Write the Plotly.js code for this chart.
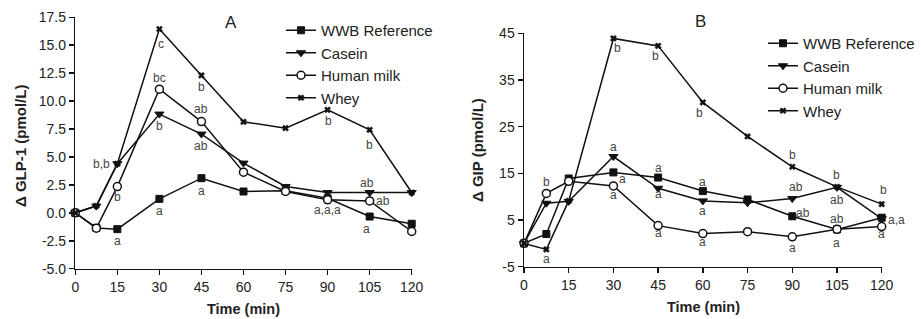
<!DOCTYPE html>
<html>
<head>
<meta charset="utf-8">
<script src="https://cdn.plot.ly/plotly-3.0.1.min.js"></script>
<style>html,body{margin:0;padding:0;background:#fff;}#chart{width:921px;height:319px;}</style>
</head>
<body>
<div id="chart"></div>
<script>
// ---------- data ----------
const times = [0, 7.5, 15, 30, 45, 60, 75, 90, 105, 120];
const seriesNames = ["WWB Reference", "Casein", "Human milk", "Whey"];

// Panel A: Δ GLP-1 (pmol/L)
const glpWWB    = [0, -1.35, -1.46, 1.25, 3.10, 1.91, 1.97, 1.30, -0.33, -0.98];
const glpCasein = [0, 0.60, 4.39, 8.84, 7.05, 4.45, 2.36, 1.82, 1.82, 1.82];
const glpHuman  = [0, -1.37, 2.35, 11.07, 8.17, 3.64, 1.91, 1.16, 1.07, -1.67];
const glpWhey   = [0, 0.63, 4.39, 16.45, 12.30, 8.15, 7.58, 9.22, 7.43, 1.82];

// Panel B: Δ GIP (pmol/L)
const gipWWB    = [0, 2.0, 13.9, 15.2, 14.1, 11.2, 9.4, 5.8, 3.0, 5.5];
const gipCasein = [0, 8.6, 9.0, 18.6, 11.8, 9.1, 8.7, 9.6, 12.0, 5.3];
const gipHuman  = [0, 10.7, 13.3, 12.3, 3.8, 2.1, 2.5, 1.4, 3.0, 3.6];
const gipWhey   = [0, -1.3, 9.1, 43.9, 42.3, 30.2, 22.9, 16.4, 12.1, 8.4];

// tick labels
const xTicks = [0, 15, 30, 45, 60, 75, 90, 105, 120];
const yTicksA = [-5.0, -2.5, 0.0, 2.5, 5.0, 7.5, 10.0, 12.5, 15.0, 17.5];
const yTicksB = [-5, 5, 15, 25, 35, 45];

// significance letters: [series, time, text]
const lettersA = [
  ["Whey", 15, "b,b"], ["Human milk", 15, "b"], ["WWB Reference", 15, "a"],
  ["WWB Reference", 30, "a"], ["WWB Reference", 45, "a"],
  ["Whey", 30, "c"], ["Human milk", 30, "bc"], ["Casein", 30, "b"],
  ["Whey", 45, "b"], ["Human milk", 45, "ab"], ["Casein", 45, "ab"],
  ["Whey", 90, "b"], ["Whey", 105, "b"],
  ["Casein", 105, "ab"], ["Human milk", 105, "ab"],
  ["Human milk", 90, "a,a,a"], ["WWB Reference", 105, "a"]
];
const lettersB = [
  ["Human milk", 7.5, "b"], ["Whey", 7.5, "a"],
  ["Whey", 30, "b"], ["Whey", 45, "b"],
  ["Casein", 30, "a"], ["WWB Reference", 30, "a"], ["Human milk", 30, "a"],
  ["WWB Reference", 45, "a"], ["Casein", 45, "a"], ["Human milk", 45, "a"],
  ["Whey", 60, "b"], ["Casein", 60, "a"], ["WWB Reference", 60, "a"], ["Human milk", 60, "a"],
  ["Whey", 90, "b"], ["Casein", 90, "ab"], ["WWB Reference", 90, "ab"], ["Human milk", 90, "a"],
  ["Whey", 105, "b"], ["Casein", 105, "ab"], ["Human milk", 105, "ab"], ["WWB Reference", 105, "a"],
  ["Whey", 120, "b"], ["WWB Reference", 120, "a,a"], ["Human milk", 120, "a"]
];

// ---------- layout helpers (pixel offsets of the letters, screen-down positive) ----------
const offA = [[-16,0],[0,10],[0,12],[0,12],[0,13],[2,15],[0,-11],[0,12],[0,12],[0,-13],[0,12],
              [1,11],[0,15],[-3,-10],[13,0],[0,10],[-3,12]];
const offB = [[0,-11],[0,10],[4,10],[-3,10],[0,-10],[9,7],[0,9],[0,-10],[0,6],[0,7],
              [-3,11],[0,10],[0,-9],[0,8],[0,-12],[4,-12],[11,-3],[0,11],[0,-12],[0,13],[0,-10],[0,14],
              [2,-14],[15,2],[0,7]];

const W = 921, H = 319;
const px = v => v / W;
const py = v => 1 - v / H;

const ink = "#111";
const FONT = "'Liberation Sans', Arial, Helvetica, sans-serif";

const markerStyles = {
  "WWB Reference": {symbol: "square", size: 7, color: ink, line: {color: ink, width: 1}},
  "Casein": {symbol: "triangle-down", size: 8, color: ink, line: {color: ink, width: 1}},
  "Human milk": {symbol: "circle", size: 8, color: "#fff", line: {color: ink, width: 1.5}},
  "Whey": {symbol: "x", size: 5.5, color: ink, line: {color: ink, width: 0.5}}
};

const dataA = {"WWB Reference": glpWWB, "Casein": glpCasein, "Human milk": glpHuman, "Whey": glpWhey};
const dataB = {"WWB Reference": gipWWB, "Casein": gipCasein, "Human milk": gipHuman, "Whey": gipWhey};

const traces = [];
seriesNames.forEach((name, i) => {
  traces.push({
    x: times, y: dataA[name], name: name, type: "scatter", mode: "lines+markers",
    xaxis: "x", yaxis: "y", legend: "legend", legendgroup: "a" + i,
    line: {color: ink, width: 1.5}, marker: markerStyles[name], cliponaxis: false
  });
});
seriesNames.forEach((name, i) => {
  traces.push({
    x: times, y: dataB[name], name: name, type: "scatter", mode: "lines+markers",
    xaxis: "x2", yaxis: "y2", legend: "legend2", legendgroup: "b" + i,
    line: {color: ink, width: 1.5}, marker: markerStyles[name], cliponaxis: false
  });
});

function letterAnnots(list, offs, data, xr, yr) {
  return list.map((l, k) => {
    const idx = times.indexOf(l[1]);
    return {
      x: l[1], y: data[l[0]][idx], xref: xr, yref: yr, text: l[2], showarrow: false,
      xanchor: "center", yanchor: "middle",
      xshift: offs[k][0], yshift: -offs[k][1],
      font: {family: FONT, size: 12, color: "#444"}
    };
  });
}

function paperText(text, x, y, size, angle) {
  return {text: text, xref: "paper", yref: "paper", x: px(x), y: py(y), showarrow: false,
    xanchor: "center", yanchor: "middle", textangle: angle || 0,
    font: {family: FONT, size: size, color: "#222"}};
}

const axisCommon = {
  showline: true, linewidth: 1.5, linecolor: ink, ticks: "outside", ticklen: 5, tickwidth: 1.5,
  tickcolor: ink, showgrid: false, zeroline: false, fixedrange: true,
  tickfont: {family: FONT, size: 14, color: "#222"}
};

const layout = {
  width: W, height: H, margin: {l: 0, r: 0, t: 0, b: 0},
  paper_bgcolor: "#fff", plot_bgcolor: "rgba(0,0,0,0)", showlegend: true,
  font: {family: FONT, color: "#222"},
  xaxis: Object.assign({}, axisCommon, {domain: [px(75.3), px(411.7)], range: [0, 120],
    tickmode: "array", tickvals: xTicks, ticktext: xTicks.map(String), anchor: "y"}),
  yaxis: Object.assign({}, axisCommon, {domain: [py(268.7), py(17.3)], range: [-5, 17.5],
    tickmode: "array", tickvals: yTicksA, ticktext: yTicksA.map(v => v.toFixed(1)), anchor: "x"}),
  xaxis2: Object.assign({}, axisCommon, {domain: [px(524), px(881.7)], range: [0, 120],
    tickmode: "array", tickvals: xTicks, ticktext: xTicks.map(String), anchor: "y2"}),
  yaxis2: Object.assign({}, axisCommon, {domain: [py(266.7), py(33.3)], range: [-5, 45],
    tickmode: "array", tickvals: yTicksB, ticktext: yTicksB.map(String), anchor: "x2"}),
  legend: {x: px(281), y: py(14), xanchor: "left", yanchor: "top", bgcolor: "rgba(0,0,0,0)",
    font: {family: FONT, size: 15, color: "#222"}, tracegroupgap: 0, itemwidth: 30},
  legend2: {x: px(763), y: py(27), xanchor: "left", yanchor: "top", bgcolor: "rgba(0,0,0,0)",
    font: {family: FONT, size: 15, color: "#222"}, tracegroupgap: 0, itemwidth: 30},
  annotations: [
    paperText("A", 231, 22.5, 17),
    paperText("B", 700.7, 21.7, 17),
    paperText("<b>Time (min)</b>", 243.5, 308.5, 14.5),
    paperText("<b>Time (min)</b>", 703, 307, 14.5),
    paperText("<b>Δ GLP-1 (pmol/L)</b>", 21, 146, 15, -90),
    paperText("<b>Δ GIP (pmol/L)</b>", 477, 150, 15, -90)
  ].concat(letterAnnots(lettersA, offA, dataA, "x", "y"))
   .concat(letterAnnots(lettersB, offB, dataB, "x2", "y2"))
};

Plotly.newPlot("chart", traces, layout, {displayModeBar: false, staticPlot: true});
</script>
</body>
</html>
